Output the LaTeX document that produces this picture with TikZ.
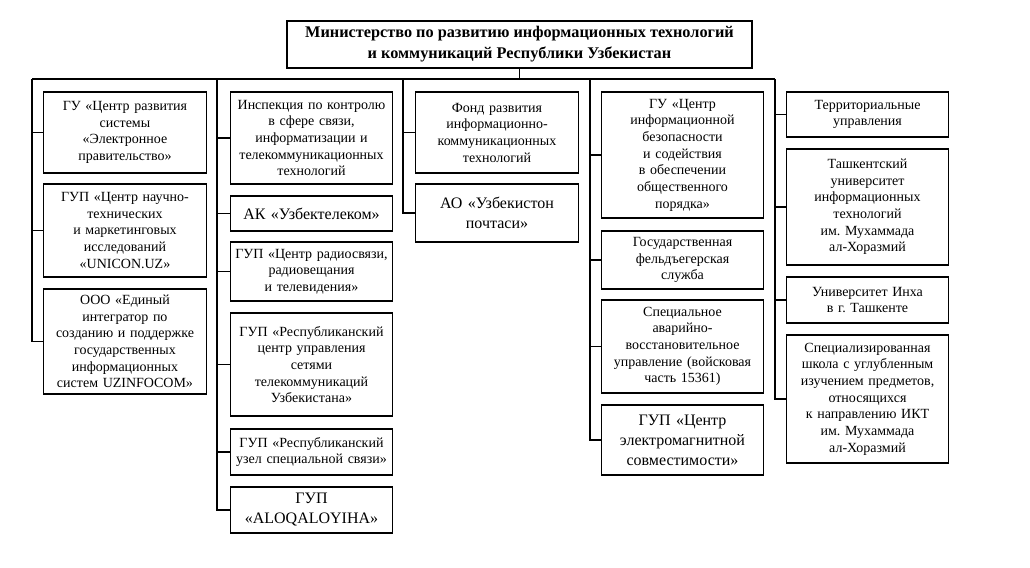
\documentclass[tikz,border=0pt]{standalone}
\usepackage{fontspec}
\setmainfont{Liberation Serif}
\frenchspacing
\begin{document}
\begin{tikzpicture}[x=0.75pt,y=-0.75pt,
  org/.style={draw,line width=0.8pt,align=center,text width=122pt,inner xsep=0pt,inner ysep=0pt,font=\fontsize{10.5}{12.5}\selectfont},
  bigorg/.style={org,font=\fontsize{12}{15}\selectfont},
  link/.style={line width=0.8pt}]
  \useasboundingbox (0,0) rectangle (1030,567);
  \node[draw,line width=0.8pt,align=center,minimum width=348.75pt,minimum height=35.25pt,font=\fontsize{12.2}{15.75}\selectfont\bfseries] (M) at (519.5,44.5) {Министерство по развитию информационных технологий\\и коммуникаций Республики Узбекистан};
  \coordinate (T1) at (32,79);
  \coordinate (T2) at (217,79);
  \coordinate (T3) at (403,79);
  \coordinate (T4) at (590,79);
  \coordinate (T5) at (775,79);
  \node[org,minimum height=60.75pt] (B11) at (125,132.5) {ГУ «Центр развития\\системы\\«Электронное\\правительство»};
  \node[org,minimum height=69.75pt] (B12) at (125,230.5) {ГУП «Центр научно-\\технических\\и маркетинговых\\исследований\\«UNICON.UZ»};
  \node[org,minimum height=78.75pt] (B13) at (125,341.5) {ООО «Единый\\интегратор по\\созданию и поддержке\\государственных\\информационных\\систем UZINFOCOM»};
  \node[org,minimum height=69pt] (B21) at (311.5,138) {Инспекция по контролю\\в сфере связи,\\информатизации и\\телекоммуникационных\\технологий};
  \node[bigorg,minimum height=26.25pt] (B22) at (311.5,213.5) {АК «Узбектелеком»};
  \node[org,minimum height=44.25pt] (B23) at (311.5,271.5) {ГУП «Центр радиосвязи,\\радиовещания\\и телевидения»};
  \node[org,minimum height=77.25pt] (B24) at (311.5,364.5) {ГУП «Республиканский\\центр управления\\сетями\\телекоммуникаций\\Узбекистана»};
  \node[org,minimum height=34.5pt] (B25) at (311.5,452) {ГУП «Республиканский\\\makebox[\linewidth]{узел специальной связи»}};
  \node[bigorg,minimum height=34.5pt] (B26) at (311.5,510) {ГУП\\«ALOQALOYIHA»};
  \node[org,minimum height=60.75pt] (B31) at (497,132.5) {Фонд развития\\информационно-\\коммуникационных\\технологий};
  \node[bigorg,minimum height=43.5pt] (B32) at (497,213) {АО «Узбекистон\\почтаси»};
  \node[org,minimum height=94.5pt] (B41) at (682.5,155) {ГУ «Центр\\информационной\\безопасности\\и содействия\\в обеспечении\\общественного\\порядка»};
  \node[org,minimum height=43.5pt] (B42) at (682.5,260) {Государственная\\фельдъегерская\\служба};
  \node[org,minimum height=69.75pt] (B43) at (682.5,346.5) {Специальное\\аварийно-\\восстановительное\\управление (войсковая\\часть 15361)};
  \node[bigorg,minimum height=52.5pt] (B44) at (682.5,440) {ГУП «Центр\\электромагнитной\\совместимости»};
  \node[org,minimum height=33.75pt] (B51) at (867.5,114.5) {Территориальные\\управления};
  \node[org,minimum height=87pt] (B52) at (867.5,207) {Ташкентский\\университет\\информационных\\технологий\\им. Мухаммада\\ал-Хоразмий};
  \node[org,minimum height=34.5pt] (B53) at (867.5,300) {Университет Инха\\в г. Ташкенте};
  \node[org,minimum height=96pt] (B54) at (867.5,399) {Специализированная\\школа с углубленным\\изучением предметов,\\относящихся\\к направлению ИКТ\\им. Мухаммада\\ал-Хоразмий};
  \draw[link] (M.south) -- (M.south |- T1);
  \draw[link] (T1) -- (T5);
  \draw[link] (T1) |- (B13.west);
  \draw[link] (B11.west) -- (B11.west -| T1);
  \draw[link] (B12.west) -- (B12.west -| T1);
  \draw[link] (T2) |- (B26.west);
  \draw[link] (B21.west) -- (B21.west -| T2);
  \draw[link] (B22.west) -- (B22.west -| T2);
  \draw[link] (B23.west) -- (B23.west -| T2);
  \draw[link] (B24.west) -- (B24.west -| T2);
  \draw[link] (B25.west) -- (B25.west -| T2);
  \draw[link] (T3) |- (B32.west);
  \draw[link] (B31.west) -- (B31.west -| T3);
  \draw[link] (T4) |- (B44.west);
  \draw[link] (B41.west) -- (B41.west -| T4);
  \draw[link] (B42.west) -- (B42.west -| T4);
  \draw[link] (B43.west) -- (B43.west -| T4);
  \draw[link] (T5) |- (B54.west);
  \draw[link] (B51.west) -- (B51.west -| T5);
  \draw[link] (B52.west) -- (B52.west -| T5);
  \draw[link] (B53.west) -- (B53.west -| T5);
\end{tikzpicture}
\end{document}
